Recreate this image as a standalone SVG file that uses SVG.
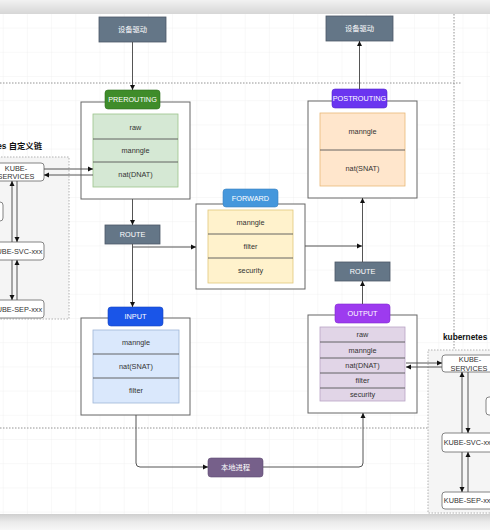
<svg xmlns="http://www.w3.org/2000/svg" width="490" height="530" viewBox="0 0 490 530">
<defs>
<linearGradient id="topbar" x1="0" y1="0" x2="0" y2="1"><stop offset="0" stop-color="#f2f2f2"/><stop offset="1" stop-color="#d6d6d6"/></linearGradient>
<linearGradient id="botbar" x1="0" y1="0" x2="0" y2="1"><stop offset="0" stop-color="#cfcfcf"/><stop offset="0.5" stop-color="#ebebeb"/><stop offset="1" stop-color="#f7f7f7"/></linearGradient>
<pattern id="grid" patternUnits="userSpaceOnUse" x="2.7" y="3.4" width="24.2" height="24.2"><path d="M0,0 H24.2 M0,0 V24.2" fill="none" stroke="#ededed" stroke-width="0.8"/></pattern>
<marker id="arr" markerUnits="userSpaceOnUse" markerWidth="6" markerHeight="6" refX="5" refY="3" orient="auto"><path d="M0,0.5 L5,3 L0,5.5 z" fill="#111"/></marker>
</defs>
<style>
text{font-family:"Liberation Sans","Noto Sans CJK SC",sans-serif;font-size:7.3px;text-anchor:middle;dominant-baseline:central;fill:#333}
.w{fill:#fff}
.gray{fill:#647687;stroke:#4b5866;stroke-width:0.8}
.outer{fill:#fff;stroke:#666;stroke-width:1}
.div{stroke:#555;stroke-width:0.9}
.conn{fill:none;stroke:#555;stroke-width:1;marker-end:url(#arr)}
.dot{fill:none;stroke:#888;stroke-width:0.9;stroke-dasharray:1.5 1.5}
.kbox{fill:#fff;stroke:#777;stroke-width:0.9}
.region{fill:#f5f5f5;stroke:#aaa;stroke-width:0.9;stroke-dasharray:1.5 1.5}
.lbl{font-weight:bold;font-size:8.3px;fill:#111;text-anchor:start}
</style>
<rect x="0" y="0" width="490" height="530" fill="#fff"/>
<rect x="0" y="14" width="490" height="500" fill="url(#grid)"/>
<rect x="0" y="0" width="490" height="14" fill="url(#topbar)"/>
<rect x="0" y="514" width="490" height="16" fill="url(#botbar)"/>

<g id="separators">
<path class="dot" d="M0,83 H462"/>
<path class="dot" d="M0,428 H490"/>
<path class="dot" d="M454,14 V350"/>
</g>

<g id="k8s-left">
<rect class="region" x="-20" y="157" width="89" height="162"/>
<text class="lbl" x="-37.8" y="146">kubernetes 自定义链</text>
<rect class="kbox" x="-60" y="202" width="63" height="19" rx="3"/>
</g>
<g id="k8s-right">
<rect class="region" x="428" y="350" width="80" height="163"/>
<text class="lbl" x="443" y="337">kubernetes 自定义链</text>
<rect class="kbox" x="486" y="397" width="40" height="18" rx="3"/>
</g>

<g id="kube-services-left"><rect class="kbox" x="-10" y="163" width="54" height="18" rx="3"/><text x="16" y="168">KUBE-</text><text x="16" y="176.5">SERVICES</text></g>
<g id="kube-svc-left"><rect class="kbox" x="-10" y="242" width="54" height="18" rx="3"/><text x="17" y="251">KUBE-SVC-xxx</text></g>
<g id="kube-sep-left"><rect class="kbox" x="-10" y="300" width="54" height="18" rx="3"/><text x="17" y="309">KUBE-SEP-xxx</text></g>
<g id="kube-services-right"><rect class="kbox" x="442" y="355" width="54" height="17" rx="3"/><text x="470" y="359.5">KUBE-</text><text x="469" y="368">SERVICES</text></g>
<g id="kube-svc-right"><rect class="kbox" x="442" y="433" width="54" height="19" rx="3"/><text x="469" y="442.5">KUBE-SVC-xxx</text></g>
<g id="kube-sep-right"><rect class="kbox" x="442" y="492" width="54" height="17" rx="3"/><text x="469" y="500.5">KUBE-SEP-xxx</text></g>

<g id="driver-in"><rect class="gray" x="99" y="17" width="67" height="25"/><text class="w" x="132.5" y="29.5">设备驱动</text></g>
<g id="driver-out"><rect class="gray" x="326" y="16" width="67" height="25"/><text class="w" x="359.5" y="28.5">设备驱动</text></g>

<g id="prerouting">
<rect class="outer" x="81" y="102" width="109" height="97"/>
<rect x="93" y="114" width="85" height="73" fill="#d5e8d4" stroke="#9bc48a" stroke-width="0.8"/>
<path class="div" d="M93,139 H178 M93,162 H178"/>
<text x="135.5" y="127">raw</text><text x="135.5" y="150.5">manngle</text><text x="135.5" y="174.5">nat(DNAT)</text>
<rect x="105" y="90" width="55" height="19" rx="3" fill="#3f8c2a" stroke="#2d6e1c" stroke-width="0.6"/>
<text class="w" x="132.5" y="99.5">PREROUTING</text>
</g>

<g id="route-left"><rect class="gray" x="105" y="225" width="55" height="19"/><text class="w" x="132.5" y="234.5">ROUTE</text></g>

<g id="forward">
<rect class="outer" x="196" y="204" width="109" height="85"/>
<rect x="208" y="210" width="85" height="73" fill="#fff2cc" stroke="#e0c77a" stroke-width="0.8"/>
<path class="div" d="M208,234 H293 M208,258 H293"/>
<text x="250.5" y="222">manngle</text><text x="250.5" y="246">filter</text><text x="250.5" y="270.5">security</text>
<rect x="223" y="189" width="55" height="18" rx="3" fill="#4597dc" stroke="#3a82c0" stroke-width="0.6"/>
<text class="w" x="250.5" y="198">FORWARD</text>
</g>

<g id="postrouting">
<rect class="outer" x="308" y="101" width="109" height="97"/>
<rect x="320" y="113" width="85" height="73" fill="#ffe6cc" stroke="#e8b878" stroke-width="0.8"/>
<path class="div" d="M320,150 H405"/>
<text x="362.5" y="131.5">manngle</text><text x="362.5" y="168">nat(SNAT)</text>
<rect x="332" y="89" width="55" height="19" rx="3" fill="#6a35f0" stroke="#5526cc" stroke-width="0.6"/>
<text class="w" x="359.5" y="98.5">POSTROUTING</text>
</g>

<g id="route-right"><rect class="gray" x="335" y="262" width="55" height="19"/><text class="w" x="362.5" y="271.5">ROUTE</text></g>

<g id="input">
<rect class="outer" x="81" y="318" width="109" height="97"/>
<rect x="93" y="330" width="86" height="73" fill="#dae8fc" stroke="#9fb6d8" stroke-width="0.8"/>
<path class="div" d="M93,354 H179 M93,378 H179"/>
<text x="136" y="342">manngle</text><text x="136" y="366">nat(SNAT)</text><text x="136" y="390.5">filter</text>
<rect x="108" y="307" width="55" height="19" rx="3" fill="#1a55e8" stroke="#1444c0" stroke-width="0.6"/>
<text class="w" x="135.5" y="316.5">INPUT</text>
</g>

<g id="output">
<rect class="outer" x="308" y="315" width="109" height="98"/>
<rect x="320" y="327" width="85" height="74" fill="#e1d5e7" stroke="#b9a3c6" stroke-width="0.8"/>
<path class="div" d="M320,342 H405 M320,358 H405 M320,373 H405 M320,388 H405"/>
<text x="362.5" y="334.5">raw</text><text x="362.5" y="350">manngle</text><text x="362.5" y="365.5">nat(DNAT)</text><text x="362.5" y="380.5">filter</text><text x="362.5" y="394.5">security</text>
<rect x="335" y="304" width="55" height="19" rx="3" fill="#9d3bef" stroke="#8229d0" stroke-width="0.6"/>
<text class="w" x="362.5" y="313.5">OUTPUT</text>
</g>

<g id="local-process"><rect x="208" y="458" width="55" height="19" rx="3" fill="#76608a" stroke="#5f4b72" stroke-width="0.6"/><text class="w" x="235.5" y="467.5">本地进程</text></g>

<g id="connectors">
<path class="conn" d="M132.5,42 V90"/>
<path class="conn" d="M359.5,89 V41"/>
<path class="conn" d="M132.5,199 V225"/>
<path class="conn" d="M132.5,244 V307"/>
<path class="conn" d="M132.5,247 H196"/>
<path class="conn" d="M305,246 H362"/>
<path class="conn" d="M362.5,262 V198"/>
<path class="conn" d="M362.5,304 V281"/>
<path class="conn" d="M136,415 V463 Q136,467 140,467 H208"/>
<path class="conn" d="M263,467 H359 Q363,467 363,463 V413"/>
<path class="conn" d="M44,169 H93"/>
<path class="conn" d="M93,175 H44"/>
<path class="conn" d="M12,242 V181"/>
<path class="conn" d="M17,181 V242"/>
<path class="conn" d="M12,260 V300"/>
<path class="conn" d="M17,300 V260"/>
<path class="conn" d="M406,363 H442"/>
<path class="conn" d="M442,367 H406"/>
<path class="conn" d="M462,433 V372"/>
<path class="conn" d="M468,372 V433"/>
<path class="conn" d="M462,452 V492"/>
<path class="conn" d="M468,492 V452"/>
</g>
</svg>
